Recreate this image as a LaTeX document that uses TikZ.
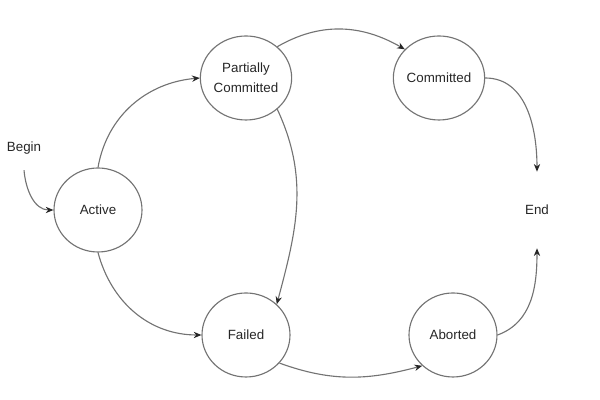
\documentclass[tikz,border=0pt]{standalone}
\usepackage{fontspec}
\setmainfont{Liberation Sans}
\usetikzlibrary{shapes,arrows.meta,positioning}

\begin{document}
\begin{tikzpicture}[
    on grid,
    state/.style={ellipse, draw=gray!90!black, line width=0.8pt, minimum width=2.2cm, minimum height=2.1cm, inner sep=0pt, align=center, font=\fontsize{9.5}{14}\selectfont, text=black!85},
    terminal/.style={inner sep=0pt, align=center, font=\fontsize{9.5}{14}\selectfont, text=black!85},
    arrow/.style={-{Stealth[length=5.5pt, width=4.5pt, color=black!85]}, line width=0.8pt, draw=gray!90!black},
]
\useasboundingbox (0,0) rectangle (15,10);

% States
\node[state] (active) at (2.45,4.75) {Active};
\node[state, above right=3.3cm and 3.7cm of active] (partial) {Partially\\Committed};
\node[state, below right=3.125cm and 3.7cm of active] (failed) {Failed};
\node[state, right=4.825cm of partial] (committed) {Committed};
\node[state, right=5.175cm of failed] (aborted) {Aborted};

% Begin and End
\node[terminal, above left=1.55cm and 1.85cm of active, minimum height=1.1cm] (begin) {Begin};
\node[terminal, right=10.975cm of active, minimum height=1.9cm] (done) {End};

% Arrows - into the transaction
\draw[arrow] (begin.south) to[out=-85, in=180] (active.west);

% Arrows - from Active
\draw[arrow] (active.north) to[out=80, in=185] (partial.west);
\draw[arrow] (active.south) to[out=-75, in=180] (failed.west);

% Arrows - from Partially Committed
\draw[arrow] (partial.45) to[out=30, in=150] (committed.140);
\draw[arrow] (partial.-45) to[out=-65, in=75] (failed.45);

% Arrows - Failed to Aborted
\draw[arrow] (failed.-40) to[out=-20, in=195] (aborted.-135);

% Arrows - to End
\draw[arrow] (committed.east) to[out=0, in=90] (done.north);
\draw[arrow] (aborted.east) to[out=20, in=-90] (done.south);

\end{tikzpicture}
\end{document}
